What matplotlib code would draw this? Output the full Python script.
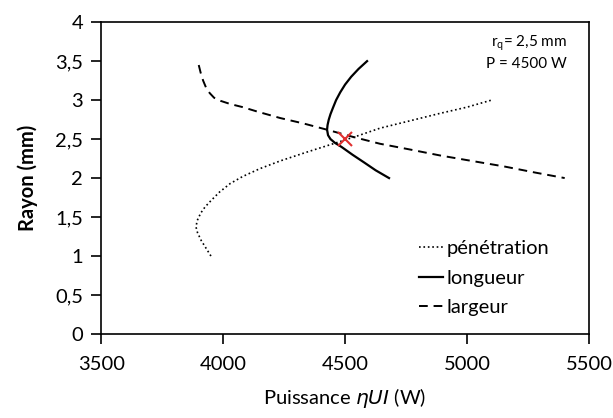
import numpy as np
import matplotlib.pyplot as plt

plt.rcParams['font.family'] = ['Lato', 'DejaVu Sans']
plt.rcParams['mathtext.fontset'] = 'dejavusans'

# pénétration (courbe pointillée)
pen_P = [3950, 3930, 3910, 3895, 3889, 3893, 3908, 3926, 3950, 3985, 4029, 4080, 4150, 4234, 4340, 4451, 4550, 4643, 4760, 4889, 5000, 5100]
pen_r = [1.00, 1.10, 1.20, 1.30, 1.37, 1.45, 1.55, 1.63, 1.71, 1.82, 1.93, 2.02, 2.12, 2.22, 2.33, 2.44, 2.54, 2.64, 2.73, 2.83, 2.91, 3.00]

# longueur (trait plein)
lon_P = [4590, 4555, 4525, 4500, 4480, 4463, 4450, 4440, 4433, 4428, 4426, 4430, 4440, 4459, 4485, 4530, 4578, 4625, 4680]
lon_r = [3.50, 3.40, 3.30, 3.20, 3.10, 3.00, 2.90, 2.82, 2.75, 2.68, 2.62, 2.55, 2.50, 2.45, 2.40, 2.30, 2.20, 2.10, 2.00]

# largeur (tirets)
lar_P = [3900, 3908, 3918, 3930, 3945, 3963, 3990, 4029, 4080, 4143, 4234, 4330, 4426, 4530, 4643, 4760, 4889, 5000, 5150, 5280, 5400]
lar_r = [3.45, 3.35, 3.25, 3.16, 3.09, 3.03, 2.99, 2.95, 2.91, 2.85, 2.77, 2.70, 2.62, 2.53, 2.44, 2.37, 2.29, 2.23, 2.15, 2.07, 2.00]

# point de fonctionnement
pt_P = [4500]
pt_r = [2.5]

fig = plt.figure(figsize=(6.13, 4.18), dpi=100)
ax = fig.add_axes([0.165, 0.201, 0.796, 0.746])

ax.plot(pen_P, pen_r, color='black', linestyle=':', linewidth=1.2, label='pénétration')
ax.plot(lon_P, lon_r, color='black', linestyle='-', linewidth=1.6, label='longueur')
ax.plot(lar_P, lar_r, color='black', linestyle=(0, (4.5, 3)), linewidth=1.4, label='largeur')
ax.plot(pt_P, pt_r, marker='x', color='#e03030', markersize=10, markeredgewidth=1.5, linestyle='none')

ax.set_xlim(3500, 5500)
ax.set_ylim(0, 4)
xt = [3500, 4000, 4500, 5000, 5500]
yt = [0, 0.5, 1, 1.5, 2, 2.5, 3, 3.5, 4]
ax.set_xticks(xt)
ax.set_xticklabels([str(v) for v in xt])
ax.set_yticks(yt)
ax.set_yticklabels([('%g' % v).replace('.', ',') for v in yt])
ax.tick_params(axis='both', direction='out', length=7, width=1.2, labelsize=14.5, pad=6)
ax.tick_params(axis='x', pad=9)
for s in ax.spines.values():
    s.set_linewidth(1.2)

ax.set_xlabel(r'Puissance $\eta$$\it{UI}$ (W)', fontsize=14.5, labelpad=9)
ax.set_ylabel('Rayon (mm)', fontsize=14.5, fontweight='bold', labelpad=12)

ax.text(0.955, 0.965, r'r$_\mathregular{q}$= 2,5 mm' + '\nP = 4500 W', transform=ax.transAxes,
        ha='right', va='top', fontsize=11, linespacing=1.35)

ax.legend(loc='lower right', bbox_to_anchor=(0.955, 0.0), frameon=False, fontsize=14.5,
          handlelength=1.2, handletextpad=0.15, labelspacing=0.6)

fig.savefig('out.png', dpi=100)
